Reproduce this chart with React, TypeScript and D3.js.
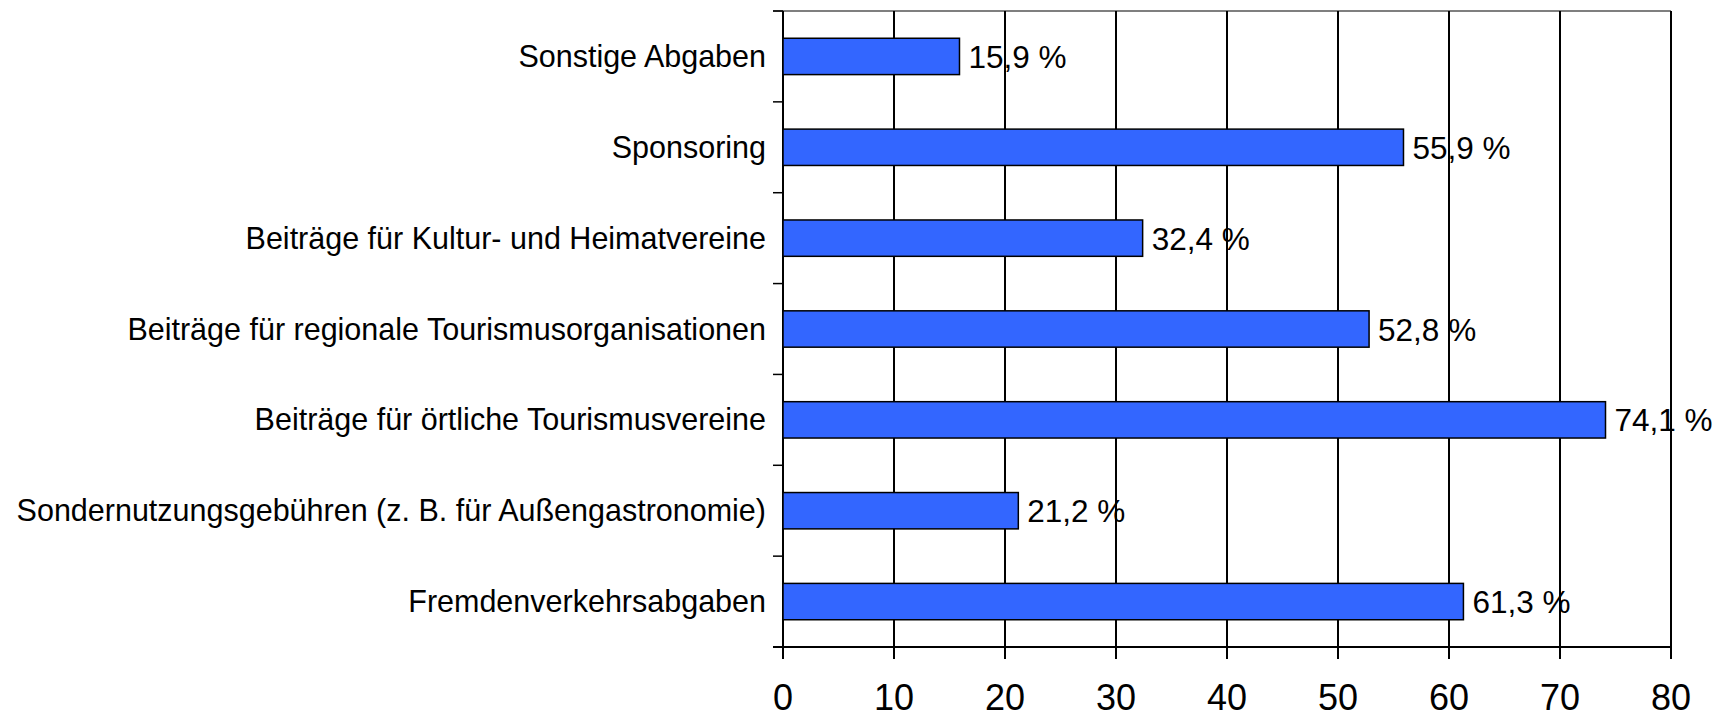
import React from "react";
import * as d3 from "d3";

const categories = [
  "Sonstige Abgaben",
  "Sponsoring",
  "Beiträge für Kultur- und Heimatvereine",
  "Beiträge für regionale Tourismusorganisationen",
  "Beiträge für örtliche Tourismusvereine",
  "Sondernutzungsgebühren (z. B. für Außengastronomie)",
  "Fremdenverkehrsabgaben",
];
const values = [15.9, 55.9, 32.4, 52.8, 74.1, 21.2, 61.3];
const xTicks = [0, 10, 20, 30, 40, 50, 60, 70, 80];

const W = 1717;
const H = 718;
const left = 783;
const right = 1671;
const top = 11;
const bottom = 647;
const FONT = "'Liberation Sans', Arial, Helvetica, sans-serif";

export default function App() {
  const x = d3.scaleLinear().domain([0, 80]).range([left, right]);
  const y = d3
    .scaleBand<string>()
    .domain(categories)
    .range([top, bottom])
    .paddingInner(0.6)
    .paddingOuter(0.3);
  const boundaries = d3.range(categories.length + 1).map((i) => top + (i * (bottom - top)) / categories.length);
  const fmt = (v: number) => v.toFixed(1).replace(".", ",") + " %";

  return (
    <svg
      width={W}
      height={H}
      style={{ position: "absolute", left: 0, top: 0, background: "#fff" }}
      fontFamily={FONT}
    >
      {/* top border */}
      <line x1={left - 10} x2={right} y1={top} y2={top} stroke="#555" strokeWidth={1.5} />
      {/* vertical gridlines */}
      {xTicks.map((t) => (
        <line key={"g" + t} x1={x(t)} x2={x(t)} y1={top} y2={bottom + 12} stroke="#000" strokeWidth={2} />
      ))}
      {/* y-axis ticks */}
      {boundaries.map((b, i) => (
        <line key={"yt" + i} x1={left - 10} x2={left} y1={b} y2={b} stroke="#000" strokeWidth={1.5} />
      ))}
      {/* bottom axis line */}
      <line x1={left - 10} x2={right} y1={bottom} y2={bottom} stroke="#000" strokeWidth={2} />
      {/* bars */}
      {categories.map((c, i) => (
        <rect
          key={"b" + i}
          x={x(0)}
          y={y(c)!}
          width={x(values[i]) - x(0)}
          height={y.bandwidth()}
          fill="#3366ff"
          stroke="#000"
          strokeWidth={1.5}
        />
      ))}
      {/* value labels */}
      {categories.map((c, i) => (
        <text
          key={"v" + i}
          x={x(values[i]) + 9}
          y={y(c)! + y.bandwidth() / 2 + 11.5}
          fontSize={31.5}
          fill="#000"
        >
          {fmt(values[i])}
        </text>
      ))}
      {/* category labels */}
      {categories.map((c, i) => (
        <text
          key={"c" + i}
          x={left - 17}
          y={y(c)! + y.bandwidth() / 2 + 10.5}
          fontSize={30.5}
          textAnchor="end"
          fill="#000"
        >
          {c}
        </text>
      ))}
      {/* x tick labels */}
      {xTicks.map((t) => (
        <text key={"xl" + t} x={x(t)} y={710} fontSize={36} textAnchor="middle" fill="#000">
          {t}
        </text>
      ))}
    </svg>
  );
}
